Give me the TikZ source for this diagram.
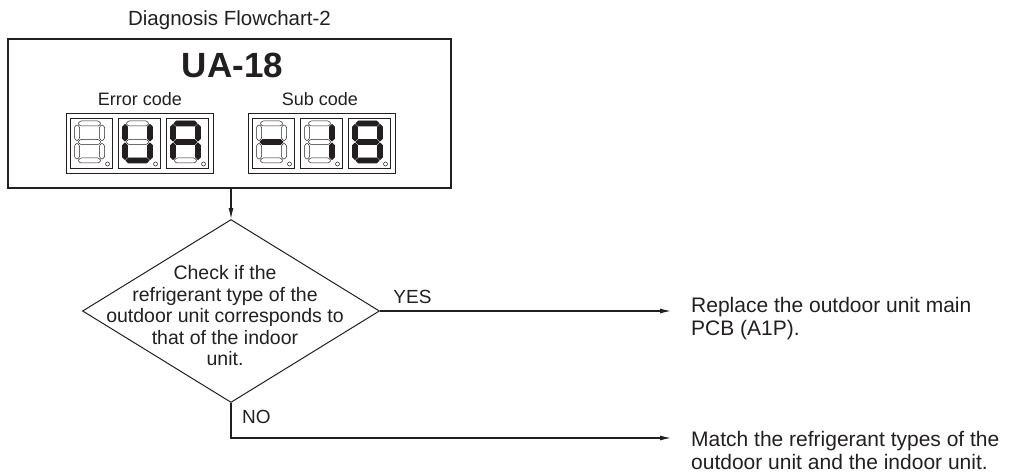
\documentclass[tikz,border=0pt]{standalone}
\usepackage{fontspec}
\setmainfont{Liberation Sans}
\usetikzlibrary{shapes.geometric,arrows.meta}
\definecolor{ink}{RGB}{35,31,32}
\newcommand\segcell[9]{%
 \begin{scope}[shift={(#1,#2)}]
  \draw[cellframe] (0,0) rectangle (42,50);
  \path[#3] (7.5,5.5) -- (10,3) -- (28,3) -- (30.5,5.5) -- (28,8) -- (10,8) -- cycle;
  \path[#4] (31.5,6.5) -- (34,9) -- (34,20.5) -- (31.5,23) -- (29,20.5) -- (29,9) -- cycle;
  \path[#5] (31.5,25) -- (34,27.5) -- (34,39) -- (31.5,41.5) -- (29,39) -- (29,27.5) -- cycle;
  \path[#6] (7.5,42.5) -- (10,40) -- (28,40) -- (30.5,42.5) -- (28,45) -- (10,45) -- cycle;
  \path[#7] (6.5,25) -- (9,27.5) -- (9,39) -- (6.5,41.5) -- (4,39) -- (4,27.5) -- cycle;
  \path[#8] (6.5,6.5) -- (9,9) -- (9,20.5) -- (6.5,23) -- (4,20.5) -- (4,9) -- cycle;
  \path[#9] (7.5,24) -- (10,21.5) -- (28,21.5) -- (30.5,24) -- (28,26.5) -- (10,26.5) -- cycle;
  \draw[segoff] (37,46) circle (2);
 \end{scope}}
\begin{document}
\begin{tikzpicture}[x=1pt,y=-1pt,
  every node/.style={text=ink},
  frame/.style={draw=ink, line width=1.2pt},
  cellframe/.style={draw=ink, line width=0.8pt},
  segon/.style={fill=ink, draw=ink, line width=0.8pt, line join=round},
  segoff/.style={draw=ink, line width=0.5pt, rounded corners=0.8pt},
  conn/.style={draw=ink, line width=1.1pt},
  arr/.style={conn, -{Latex[length=11pt,width=5pt]}},
  lbl/.style={inner sep=0pt, font=\fontsize{19}{21}\selectfont},
  body/.style={inner sep=0pt, align=left, font=\fontsize{21}{23.5}\selectfont}]
\useasboundingbox (0,0) rectangle (1015,476);
% title
\node[inner sep=0pt, anchor=base, font=\fontsize{20.5}{24}\selectfont] (title) at (229.5,26) {Diagnosis Flowchart-2};
% main code box
\node[frame, minimum width=443pt, minimum height=149pt, inner sep=0pt] (box) at (229.5,113.5) {};
\node[inner sep=0pt, anchor=base, font=\fontsize{35}{40}\selectfont\bfseries] (code) at (232.5,78) {UA-18};
\node[inner sep=0pt, anchor=base, font=\fontsize{18}{20}\selectfont] (err) at (140,106) {Error code};
\node[inner sep=0pt, anchor=base, font=\fontsize{18}{20}\selectfont] (sub) at (320,106) {Sub code};
% display frames
\draw[cellframe] (66,113) rectangle (213,173);
\draw[cellframe] (248,113) rectangle (395,173);
% error code digits: blank, U, A
\segcell{70.5}{118}{segoff}{segoff}{segoff}{segoff}{segoff}{segoff}{segoff}
\segcell{118.5}{118}{segoff}{segon}{segon}{segon}{segon}{segon}{segoff}
\segcell{166.5}{118}{segon}{segon}{segon}{segoff}{segon}{segon}{segon}
% sub code digits: -, 1, 8
\segcell{252.5}{118}{segoff}{segoff}{segoff}{segoff}{segoff}{segoff}{segon}
\segcell{300.5}{118}{segoff}{segon}{segon}{segoff}{segoff}{segoff}{segoff}
\segcell{348.5}{118}{segon}{segon}{segon}{segon}{segon}{segon}{segon}
% decision
\node[diamond, draw=ink, line width=1pt, minimum width=297pt, minimum height=183pt, inner sep=0pt] (dec) at (231,311) {};
\node[inner sep=0pt, align=center, font=\fontsize{19.5}{21.5}\selectfont] (dtext) at (225,316)
  {Check if the\\refrigerant type of the\\outdoor unit corresponds to\\that of the indoor\\unit.};
\draw[arr] (box.south -| dec.north) -- (dec.north);
% outcomes
\coordinate (yesend) at (671,311);
\coordinate (noend) at (671,438);
\draw[arr] (dec.east) -- (yesend);
\draw[arr] (dec.south) |- (noend);
\node[lbl, anchor=base] (yes) at (412.5,303) {YES};
\node[lbl, anchor=base west] (no) at (242,423) {NO};
\node[body, anchor=north west] (rep) at (691,297) {Replace the outdoor unit main\\PCB (A1P).};
\node[body, anchor=north west] (match) at (691,431) {Match the refrigerant types of the\\outdoor unit and the indoor unit.};
\end{tikzpicture}
\end{document}
